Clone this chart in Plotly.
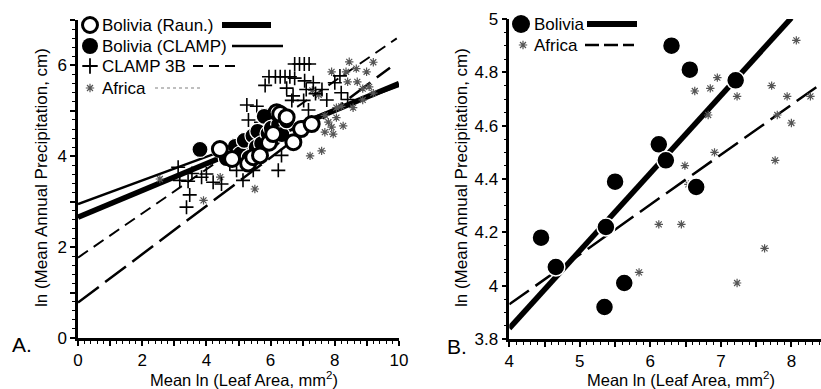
import numpy as np
import plotly.graph_objects as go

W, H = 821, 389
FONT = "Liberation Sans, Arial, Helvetica, sans-serif"

# ---------------- Panel A data ----------------
raun_x = [4.42, 4.80, 5.30, 5.46, 5.67, 5.95, 6.08, 6.19, 6.30, 6.50, 6.71, 6.95, 7.28]
raun_y = [4.16, 3.94, 3.84, 3.98, 4.02, 4.30, 4.49, 4.97, 4.93, 4.86, 4.31, 4.60, 4.71]

clampbol_x = [3.80, 4.40, 4.62, 4.90, 5.05, 5.18, 5.33, 5.45, 5.55, 5.60, 5.72, 5.80, 5.92, 6.00, 6.02, 6.10, 6.25, 6.35, 6.50]
clampbol_y = [4.15, 4.15, 3.95, 4.22, 4.05, 4.35, 3.97, 4.45, 4.20, 4.55, 4.28, 4.88, 4.50, 4.30, 4.62, 4.38, 4.70, 4.48, 4.78]

clamp3b_x = [6.75, 6.90, 7.05, 7.20, 5.95, 6.15, 6.30, 6.45, 6.60, 6.75, 5.83, 7.06, 6.50, 7.11,
             6.70, 6.66, 7.03, 7.40, 7.60, 7.33, 3.12, 3.17, 3.43, 3.48, 3.38, 3.85, 4.21, 4.47,
             5.14, 5.46, 6.24, 6.34, 4.94, 4.73, 4.00, 3.55, 5.26, 5.57, 5.31, 5.70, 6.00, 6.90,
             7.18, 7.75, 8.00, 8.16, 8.20, 8.40]
clamp3b_y = [6.03, 6.03, 6.03, 6.03, 5.75, 5.75, 5.75, 5.75, 5.75, 5.72, 5.56, 5.66, 5.50, 5.47,
             5.33, 5.23, 5.23, 5.38, 5.47, 5.62, 3.76, 3.47, 3.45, 3.15, 2.88, 3.54, 3.43, 3.39,
             3.47, 3.69, 3.69, 4.02, 3.69, 3.83, 3.61, 3.62, 5.13, 5.10, 4.80, 4.75, 4.40, 4.60,
             5.02, 5.24, 5.62, 5.77, 5.40, 5.25]

africaA_x = [2.55, 3.91, 4.43, 5.51, 7.23, 7.59, 7.69, 7.80, 7.90, 7.69, 7.95, 8.26, 8.05, 8.05,
             8.57, 7.90, 8.35, 8.45, 8.67, 9.20, 8.99, 8.40, 8.70, 8.87, 9.07, 9.20, 8.87, 7.30,
             7.50, 8.20]
africaA_y = [3.50, 3.03, 3.54, 3.28, 4.01, 4.12, 4.90, 4.75, 4.64, 4.53, 4.49, 4.67, 4.85, 5.07,
             5.07, 5.86, 5.86, 6.08, 5.93, 6.07, 5.86, 5.64, 5.64, 5.49, 5.53, 5.39, 5.24, 5.45,
             5.35, 5.10]

# regression lines (panel A): x start, x end, intercept, slope
fitA_names = ["Bolivia (Raun.)", "Bolivia (CLAMP)", "CLAMP 3B", "Africa"]
fitA_x0 = [0.0, 0.0, 0.0, 0.0]
fitA_x1 = [10.0, 10.0, 9.93, 9.72]
fitA_b = [2.66, 2.95, 1.77, 0.78]
fitA_m = [0.294, 0.260, 0.486, 0.532]

# ---------------- Panel B data ----------------
bolB_x = [4.45, 4.66, 5.35, 5.37, 5.50, 5.63, 6.12, 6.22, 6.30, 6.56, 6.65, 7.21]
bolB_y = [4.18, 4.07, 3.92, 4.22, 4.39, 4.01, 4.53, 4.47, 4.90, 4.81, 4.37, 4.77]

afrB_x = [5.84, 6.12, 6.44, 6.49, 6.54, 6.63, 6.82, 6.85, 6.91, 6.95, 7.23, 7.23, 7.62, 7.72,
          7.77, 7.80, 7.94, 8.00, 8.07, 8.27]
afrB_y = [4.05, 4.23, 4.23, 4.45, 4.38, 4.73, 4.64, 4.74, 4.50, 4.78, 4.71, 4.01, 4.14, 4.75,
          4.47, 4.64, 4.71, 4.61, 4.92, 4.71]

fitB_names = ["Bolivia", "Africa"]
fitB_x0 = [4.0, 4.0]
fitB_x1 = [8.0, 8.5]
fitB_b = [3.84, 3.93]      # value at x = 4
fitB_m = [0.291, 0.187]

# tick labels
xA_ticks = list(range(0, 11))
xA_text = [str(v) if v % 2 == 0 else "" for v in xA_ticks]
yA_ticks = list(range(0, 8))
yA_text = [str(v) if v % 2 == 0 else "" for v in yA_ticks]
xB_ticks = [4, 4.5, 5, 5.5, 6, 6.5, 7, 7.5, 8]
xB_text = ["4", "", "5", "", "6", "", "7", "", "8"]
yB_ticks = [3.8, 4.0, 4.2, 4.4, 4.6, 4.8, 5.0]
yB_text = ["3.8", "4", "4.2", "4.4", "4.6", "4.8", "5"]

# ---------------- styles ----------------
fitA_style = [dict(width=5.5, dash="solid"), dict(width=2.5, dash="solid"),
              dict(width=2, dash="12px,7px"), dict(width=2.5, dash="26px,8px")]
fitB_style = [dict(width=5.5, dash="solid"), dict(width=2.5, dash="24px,8px")]
AST = "#555555"

mk_ast = dict(symbol="asterisk-open", size=7, color=AST, line=dict(color=AST, width=1.2))
mk_cross = dict(symbol="cross-thin-open", size=10, color="black", line=dict(color="black", width=1.6))

fig = go.Figure()

# Panel A lines
for i in range(4):
    xs = np.array([fitA_x0[i], fitA_x1[i]])
    ys = fitA_b[i] + fitA_m[i] * xs
    fig.add_trace(go.Scatter(x=xs, y=ys, mode="lines", xaxis="x", yaxis="y",
                             line=dict(color="black", **fitA_style[i]), showlegend=False))
# Panel A points
fig.add_trace(go.Scatter(x=africaA_x, y=africaA_y, mode="markers", xaxis="x", yaxis="y",
                         marker=mk_ast, showlegend=False))
fig.add_trace(go.Scatter(x=clamp3b_x, y=clamp3b_y, mode="markers", xaxis="x", yaxis="y",
                         marker=mk_cross, showlegend=False))
fig.add_trace(go.Scatter(x=clampbol_x, y=clampbol_y, mode="markers", xaxis="x", yaxis="y",
                         marker=dict(symbol="circle", size=16, color="black", line=dict(color="white", width=1.2)),
                         showlegend=False))
fig.add_trace(go.Scatter(x=raun_x, y=raun_y, mode="markers", xaxis="x", yaxis="y",
                         marker=dict(symbol="circle", size=15, color="white", line=dict(color="black", width=3)),
                         showlegend=False))

# Panel B lines
for i in range(2):
    xs = np.array([fitB_x0[i], fitB_x1[i]])
    ys = fitB_b[i] + fitB_m[i] * (xs - 4.0)
    fig.add_trace(go.Scatter(x=xs, y=ys, mode="lines", xaxis="x2", yaxis="y2",
                             line=dict(color="black", **fitB_style[i]), showlegend=False))
fig.add_trace(go.Scatter(x=afrB_x, y=afrB_y, mode="markers", xaxis="x2", yaxis="y2",
                         marker=mk_ast, showlegend=False))
fig.add_trace(go.Scatter(x=bolB_x, y=bolB_y, mode="markers", xaxis="x2", yaxis="y2",
                         marker=dict(symbol="circle", size=18, color="black", line=dict(color="white", width=1.5)),
                         showlegend=False))

# ---------------- custom legends (pixel overlay axis) ----------------
leg_items = [
    (90, 25, "Bolivia (Raun.)", 100, 222, 271,
     dict(symbol="circle", size=15, color="white", line=dict(color="black", width=3)),
     dict(color="black", width=6, dash="solid")),
    (90, 46, "Bolivia (CLAMP)", 100, 232, 283,
     dict(symbol="circle", size=16, color="black"),
     dict(color="black", width=2.5, dash="solid")),
    (90, 66, "CLAMP 3B", 100, 193, 240,
     dict(symbol="cross-thin-open", size=11, color="black", line=dict(color="black", width=1.8)),
     dict(color="black", width=2, dash="10px,6px")),
    (90, 88, "Africa", 100, 155, 203,
     mk_ast,
     dict(color="#aaaaaa", width=1.5, dash="dot")),
    (521, 24, "Bolivia", 532, 587, 637,
     dict(symbol="circle", size=18, color="black"),
     dict(color="black", width=6, dash="solid")),
    (523, 45, "Africa", 532, 585, 634,
     mk_ast,
     dict(color="black", width=2.5, dash="14px,5px")),
]
annotations = []
for mx, my, txt, tx, lx0, lx1, mk, ln in leg_items:
    fig.add_trace(go.Scatter(x=[lx0, lx1], y=[my, my], mode="lines", xaxis="x3", yaxis="y3",
                             line=ln, showlegend=False, hoverinfo="skip"))
    fig.add_trace(go.Scatter(x=[mx], y=[my], mode="markers", xaxis="x3", yaxis="y3",
                             marker=mk, showlegend=False, hoverinfo="skip"))
    annotations.append(dict(x=tx, y=my, xref="x3", yref="y3", text=txt, showarrow=False,
                            xanchor="left", yanchor="middle", font=dict(size=17, color="black", family=FONT)))

# axis titles & panel labels
ytitle = "ln (Mean Annual Precipitation, cm)"
xtitle = "Mean ln (Leaf Area, mm<sup>2</sup>)"
annotations += [
    dict(x=244, y=379, xref="x3", yref="y3", text=xtitle, showarrow=False, xanchor="center",
         yanchor="middle", font=dict(size=16.5, family=FONT, color="black")),
    dict(x=681, y=379, xref="x3", yref="y3", text=xtitle, showarrow=False, xanchor="center",
         yanchor="middle", font=dict(size=16.5, family=FONT, color="black")),
    dict(x=41, y=178, xref="x3", yref="y3", text=ytitle, showarrow=False, textangle=-90,
         xanchor="center", yanchor="middle", font=dict(size=17, family=FONT, color="black")),
    dict(x=461, y=178, xref="x3", yref="y3", text=ytitle, showarrow=False, textangle=-90,
         xanchor="center", yanchor="middle", font=dict(size=17, family=FONT, color="black")),
    dict(x=22, y=344, xref="x3", yref="y3", text="A.", showarrow=False, xanchor="center",
         yanchor="middle", font=dict(size=21, family=FONT, color="black")),
    dict(x=457, y=346, xref="x3", yref="y3", text="B.", showarrow=False, xanchor="center",
         yanchor="middle", font=dict(size=21, family=FONT, color="black")),
]

axis_common = dict(showline=True, linecolor="black", linewidth=2.5, ticks="outside",
                   tickcolor="black", tickwidth=1.5, ticklen=5, showgrid=False, zeroline=False,
                   tickfont=dict(size=17, family=FONT, color="black"), tickmode="array",
                   automargin=False)
minor_common = dict(ticks="outside", ticklen=3, tickwidth=1, tickcolor="black", tick0=0)

fig.update_layout(
    width=W, height=H, margin=dict(l=0, r=0, t=0, b=0, pad=0, autoexpand=False),
    paper_bgcolor="white", plot_bgcolor="rgba(0,0,0,0)", showlegend=False,
    font=dict(family=FONT, color="black"),
    xaxis=dict(domain=[78 / W, 399 / W], range=[0, 10], anchor="y",
               tickvals=xA_ticks, ticktext=xA_text, minor=dict(dtick=0.2, **minor_common),
               **axis_common),
    yaxis=dict(domain=[(H - 338) / H, (H - 20) / H], range=[0, 7], anchor="x",
               tickvals=yA_ticks, ticktext=yA_text, minor=dict(dtick=0.2, **minor_common),
               **axis_common),
    xaxis2=dict(domain=[509.3 / W, 1.0], range=[4, 8.42], anchor="y2",
                tickvals=xB_ticks, ticktext=xB_text, minor=dict(dtick=0.1, **minor_common),
                **axis_common),
    yaxis2=dict(domain=[(H - 339) / H, (H - 19) / H], range=[3.8, 5.0], anchor="x2",
                tickvals=yB_ticks, ticktext=yB_text, minor=dict(dtick=0.05, **minor_common),
                **axis_common),
    xaxis3=dict(domain=[0, 1], range=[0, W], visible=False, anchor="y3", fixedrange=True,
                automargin=False),
    yaxis3=dict(domain=[0, 1], range=[H, 0], visible=False, anchor="x3", fixedrange=True,
                automargin=False),
    annotations=annotations,
)

fig.write_html("out.html", config={"displayModeBar": False},
               post_script="document.body.style.margin='0';document.body.style.padding='0';"
                           "document.body.style.overflow='hidden';")
